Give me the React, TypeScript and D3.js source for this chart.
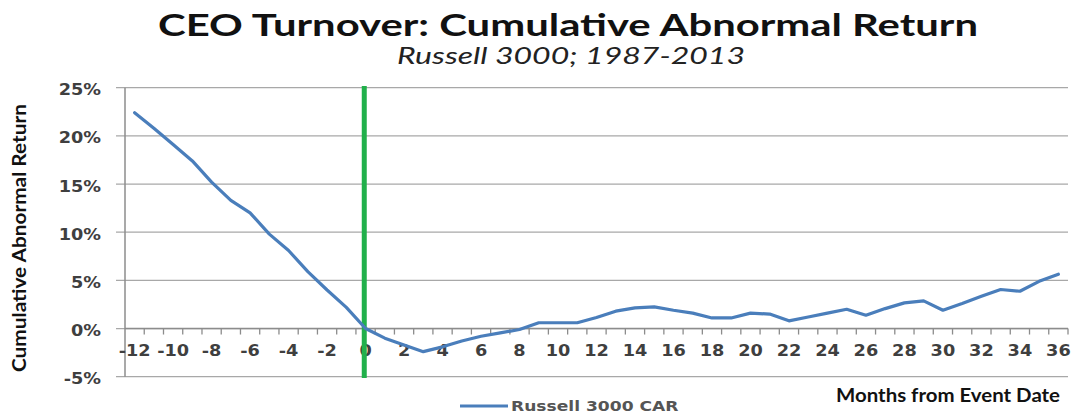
import React from "react";
import * as d3 from "d3";

const months: number[] = [
  -12, -11, -10, -9, -8, -7, -6, -5, -4, -3, -2, -1, 0, 1, 2, 3, 4, 5, 6, 7, 8, 9, 10, 11, 12,
  13, 14, 15, 16, 17, 18, 19, 20, 21, 22, 23, 24, 25, 26, 27, 28, 29, 30, 31, 32, 33, 34, 35, 36,
];
const car: number[] = [
  22.4, 20.8, 19.1, 17.4, 15.2, 13.3, 12.0, 9.8, 8.1, 5.9, 4.0, 2.2, 0.0, -1.0, -1.7, -2.4, -1.9,
  -1.3, -0.8, -0.45, -0.1, 0.6, 0.6, 0.6, 1.15, 1.8, 2.15, 2.25, 1.9, 1.6, 1.1, 1.1, 1.6, 1.5, 0.8,
  1.2, 1.6, 2.0, 1.38, 2.07, 2.66, 2.87, 1.9, 2.6, 3.35, 4.05, 3.87, 4.9, 5.64,
];
const yTicks: number[] = [-5, 0, 5, 10, 15, 20, 25];
const xLabels: number[] = [-12, -10, -8, -6, -4, -2, 0, 2, 4, 6, 8, 10, 12, 14, 16, 18, 20, 22, 24, 26, 28, 30, 32, 34, 36];
const eventMonth = 0;
const title = "CEO Turnover: Cumulative Abnormal Return";
const subtitle = "Russell 3000; 1987-2013";
const yTitle = "Cumulative Abnormal Return";
const xTitle = "Months from Event Date";
const seriesName = "Russell 3000 CAR";

const W = 1073;
const H = 415;
const left = 125;
const right = 1068;
const top = 87.7;
const bottom = 376.7;

const tickFont = "'DejaVu Sans', Verdana, sans-serif";
const titleFont = "Lato, 'Open Sans', sans-serif";
const SX = 1.18;

function StretchText(props: { x: number; y: number; anchor: string; children: React.ReactNode; size?: number; fill?: string }) {
  const { x, y, anchor, children, size = 15, fill = "#3f3f3f" } = props;
  return (
    <text
      transform={`translate(${x},${y}) scale(${SX},1)`}
      textAnchor={anchor}
      fontFamily={tickFont}
      fontWeight="bold"
      fontSize={size}
      fill={fill}
    >
      {children}
    </text>
  );
}

export default function App() {
  const x = d3.scaleBand<number>().domain(months).range([left, right]).padding(0);
  const bw = x.bandwidth();
  const cx = (m: number) => (x(m) as number) + bw / 2;
  const y = d3.scaleLinear().domain([-5, 25]).range([bottom, top]);

  const line = d3
    .line<number>()
    .x((_, i) => cx(months[i]))
    .y((d) => y(d))
    .curve(d3.curveLinear);

  const zeroY = y(0);
  const boundaries = months.slice(1).map((m) => x(m) as number).concat([right]);

  return (
    <svg
      width={W}
      height={H}
      viewBox={`0 0 ${W} ${H}`}
      style={{ position: "absolute", left: 0, top: 0, background: "#fff" }}
    >
      <rect x={0} y={0} width={W} height={H} fill="#fff" />
      {/* titles */}
      <text x={568} y={36} textAnchor="middle" fontFamily={titleFont} fontWeight="bold" fontSize={30} fill="#111" textLength={820} lengthAdjust="spacingAndGlyphs">
        {title}
      </text>
      <text x={571} y={64} textAnchor="middle" fontFamily={titleFont} fontStyle="italic" fontSize={23} fill="#222" textLength={348} lengthAdjust="spacingAndGlyphs">
        {subtitle}
      </text>

      {/* gridlines */}
      {yTicks.map((t) => (
        <line key={t} x1={116} x2={right} y1={y(t)} y2={y(t)} stroke="#a8a8a8" strokeWidth={1.3} />
      ))}
      {/* y axis */}
      <line x1={left} x2={left} y1={top} y2={bottom} stroke="#8c8c8c" strokeWidth={1.5} />
      {/* x axis at zero */}
      <line x1={left} x2={right} y1={zeroY} y2={zeroY} stroke="#8c8c8c" strokeWidth={1.5} />
      {boundaries.map((bx, i) => (
        <line key={i} x1={bx} x2={bx} y1={zeroY} y2={zeroY + 6} stroke="#8c8c8c" strokeWidth={1.3} />
      ))}

      {/* y tick labels */}
      {yTicks.map((t) => (
        <StretchText key={t} x={101} y={y(t) + 7.5} anchor="end">
          {`${t}%`}
        </StretchText>
      ))}
      {/* x tick labels */}
      {xLabels.map((m) => (
        <StretchText key={m} x={cx(m)} y={356} anchor="middle">
          {`${m}`}
        </StretchText>
      ))}

      {/* event line */}
      <line x1={cx(eventMonth) - 1.3} x2={cx(eventMonth) - 1.3} y1={86} y2={378} stroke="#21b04b" strokeWidth={5} />

      {/* series */}
      <path d={line(car) || ""} fill="none" stroke="#4a7ebb" strokeWidth={3.2} strokeLinejoin="round" strokeLinecap="round" />

      {/* axis titles */}
      <text
        transform={`translate(26,238) rotate(-90)`}
        textAnchor="middle"
        fontFamily={titleFont}
        fontWeight="bold"
        fontSize={18}
        fill="#111"
        textLength={268}
        lengthAdjust="spacingAndGlyphs"
      >
        {yTitle}
      </text>
      <text x={1060} y={402} textAnchor="end" fontFamily={titleFont} fontWeight="bold" fontSize={19} fill="#111" textLength={224} lengthAdjust="spacingAndGlyphs">
        {xTitle}
      </text>

      {/* legend */}
      <line x1={460} x2={508} y1={406} y2={406} stroke="#4a7ebb" strokeWidth={3.2} />
      <StretchText x={511} y={411} anchor="start" size={14.5} fill="#555">
        {seriesName}
      </StretchText>
    </svg>
  );
}
